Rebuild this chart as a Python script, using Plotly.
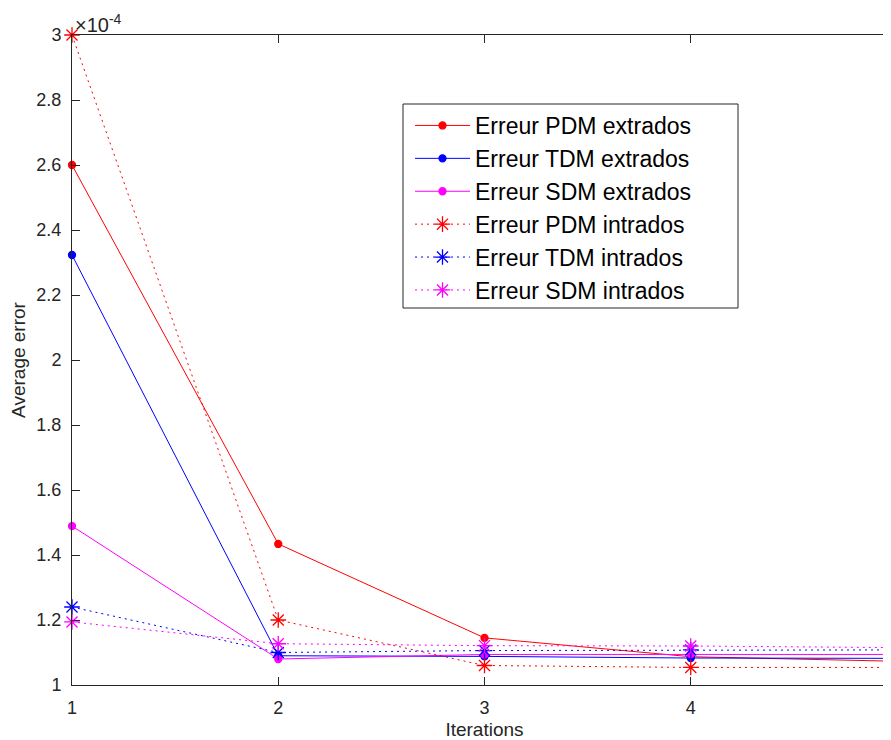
import plotly.graph_objects as go

iterations = [1, 2, 3, 4, 5]
# values in units of 1e-4
pdm_extrados = [2.60, 1.434, 1.145, 1.087, 1.073]
tdm_extrados = [2.323, 1.090, 1.088, 1.083, 1.082]
sdm_extrados = [1.489, 1.080, 1.094, 1.095, 1.094]
pdm_intrados = [3.00, 1.200, 1.060, 1.054, 1.054]
tdm_intrados = [1.240, 1.100, 1.106, 1.108, 1.108]
sdm_intrados = [1.194, 1.127, 1.121, 1.120, 1.115]

y_ticks = [1, 1.2, 1.4, 1.6, 1.8, 2, 2.2, 2.4, 2.6, 2.8, 3]
y_tick_text = ["1", "1.2", "1.4", "1.6", "1.8", "2", "2.2", "2.4", "2.6", "2.8", "3"]
x_ticks = [1, 2, 3, 4, 5]

series = [
    ("Erreur PDM extrados", pdm_extrados, "#ff0000", "solid", "circle"),
    ("Erreur TDM extrados", tdm_extrados, "#0000ff", "solid", "circle"),
    ("Erreur SDM extrados", sdm_extrados, "#ff00ff", "solid", "circle"),
    ("Erreur PDM intrados", pdm_intrados, "#ff0000", "2px,4px", "asterisk-open"),
    ("Erreur TDM intrados", tdm_intrados, "#0000ff", "2px,4px", "asterisk-open"),
    ("Erreur SDM intrados", sdm_intrados, "#ff00ff", "2px,4px", "asterisk-open"),
]

FONT = "Liberation Sans, Arial, sans-serif"
AX = "#262626"

fig = go.Figure()
for name, vals, color, dash, sym in series:
    fig.add_trace(go.Scatter(
        x=iterations, y=vals, name=name, mode="lines+markers",
        line=dict(color=color, width=1, dash=dash),
        marker=dict(symbol=sym, size=7 if sym == "circle" else 13,
                    color=color, line=dict(color=color, width=1.3)),
        cliponaxis=False,
    ))

axis_common = dict(
    showline=True, linecolor=AX, linewidth=1, mirror="ticks",
    ticks="inside", ticklen=8, tickcolor=AX,
    showgrid=False, zeroline=False, automargin=False,
    ticklabelstandoff=6,
    tickfont=dict(family=FONT, size=18, color=AX),
)

# page body has an 8px offset; margins compensate so the axes land where the reference has them
fig.update_layout(
    width=891, height=740,
    margin=dict(l=64, r=2, t=27, b=63),
    plot_bgcolor="white", paper_bgcolor="white",
    font=dict(family=FONT, color=AX),
    xaxis=dict(axis_common, range=[1, 5], tickvals=x_ticks,
               title=dict(text="Iterations", font=dict(family=FONT, size=19, color=AX), standoff=6)),
    yaxis=dict(axis_common, range=[1, 3], tickvals=y_ticks, ticktext=y_tick_text,
               title=dict(text="Average error", font=dict(family=FONT, size=19, color=AX), standoff=8)),
    legend=dict(
        x=(410 - 72) / 825, y=1 - (104 - 35) / 650, xref="paper", yref="paper",
        xanchor="left", yanchor="top",
        bgcolor="rgba(0,0,0,0)", borderwidth=0,
        font=dict(family=FONT, size=23, color="black"),
        tracegroupgap=0, itemwidth=55,
    ),
    showlegend=True,
)

# legend frame
fig.add_shape(
    type="rect", xref="paper", yref="paper",
    x0=(403 - 72) / 825, x1=(738 - 72) / 825,
    y0=1 - (308 - 35) / 650, y1=1 - (104 - 35) / 650,
    line=dict(color=AX, width=1), fillcolor="white", layer="below",
)

fig.add_annotation(
    text="×10<sup>-4</sup>", xref="paper", yref="paper", x=0, y=1,
    xanchor="left", yanchor="bottom", showarrow=False, yshift=-3, xshift=1,
    font=dict(family=FONT, size=20, color=AX),
)

fig.write_html("out.html")
